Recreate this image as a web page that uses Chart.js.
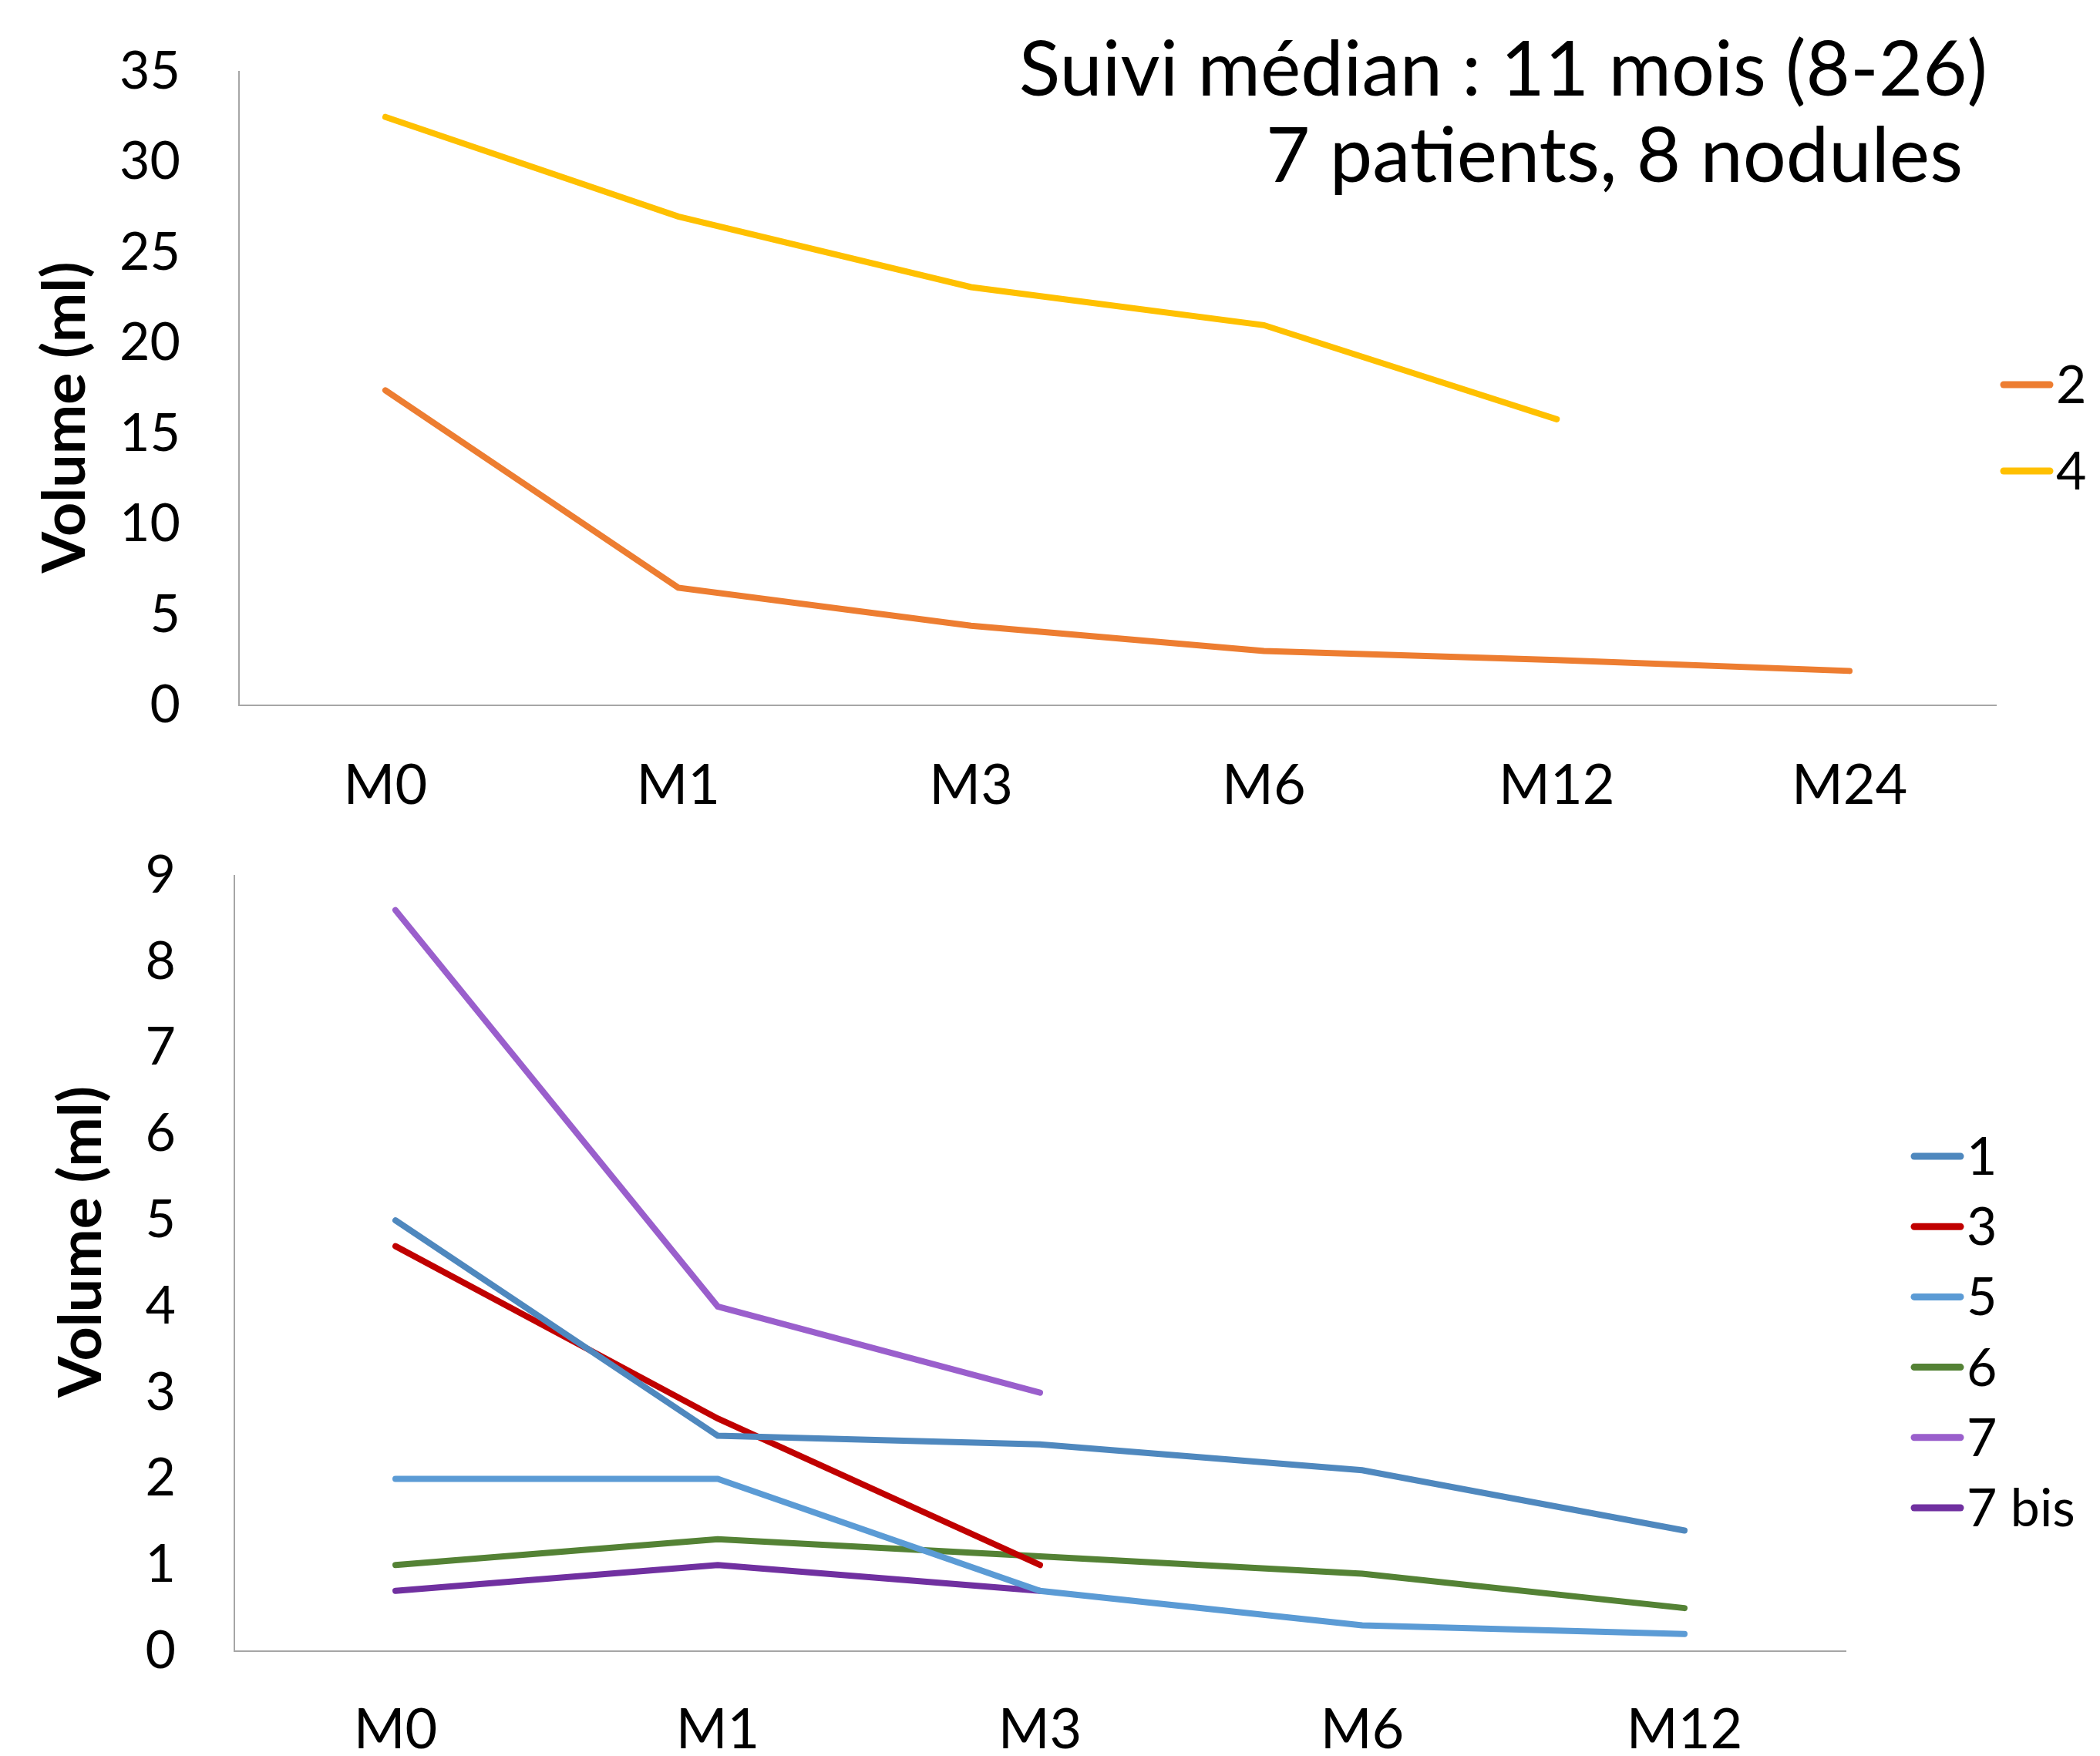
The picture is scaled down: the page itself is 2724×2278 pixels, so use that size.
<!DOCTYPE html>
<html>
<head>
<meta charset="utf-8">
<script src="https://cdn.jsdelivr.net/npm/chart.js@4.4.1/dist/chart.umd.min.js"></script>
<style>
  body { margin: 0; background: #fff; }
  canvas { position: absolute; left: 0; }
</style>
</head>
<body>
<canvas id="topChart" width="2724" height="1080" style="top:0"></canvas>
<canvas id="bottomChart" width="2724" height="1198" style="top:1080px"></canvas>
<script>
// top chart: large nodules
const topMonths = ['M0', 'M1', 'M3', 'M6', 'M12', 'M24'];
const nodule2 = [17.4, 6.5, 4.4, 3.0, 2.5, 1.9];
const nodule4 = [32.5, 27.0, 23.1, 21.0, 15.8, null];

// bottom chart: small nodules
const bottomMonths = ['M0', 'M1', 'M3', 'M6', 'M12'];
const nodule1 = [5.0, 2.5, 2.4, 2.1, 1.4];
const nodule3 = [4.7, 2.7, 1.0, null, null];
const nodule5 = [2.0, 2.0, 0.7, 0.3, 0.2];
const nodule6 = [1.0, 1.3, 1.1, 0.9, 0.5];
const nodule7 = [8.6, 4.0, 3.0, null, null];
const nodule7bis = [0.7, 1.0, 0.7, null, null];

const titleLines = ['Suivi médian : 11 mois (8-26)', '7 patients, 8 nodules'];

const FONT = 'Lato';

// legend drawn as "line + label" like the original spreadsheet chart
const lineLegend = {
  id: 'lineLegend',
  afterDraw(chart, args, opts) {
    const ctx = chart.ctx;
    ctx.save();
    ctx.font = opts.size + 'px ' + FONT;
    ctx.textBaseline = 'middle';
    ctx.fillStyle = '#000';
    ctx.lineCap = 'round';
    ctx.lineWidth = 9;
    chart.data.datasets.forEach((ds, i) => {
      const y = opts.top + i * opts.step;
      ctx.strokeStyle = ds.borderColor;
      ctx.beginPath();
      ctx.moveTo(opts.x + 4, y);
      ctx.lineTo(opts.x + opts.len - 4, y);
      ctx.stroke();
      ctx.fillText(ds.label, opts.x + opts.len + 4, y + 2);
    });
    ctx.restore();
  }
};

const noteTitle = {
  id: 'noteTitle',
  afterDraw(chart, args, opts) {
    if (!opts.lines) return;
    const ctx = chart.ctx;
    ctx.save();
    ctx.font = '99px ' + FONT;
    ctx.fillStyle = '#000';
    ctx.textAlign = 'right';
    ctx.textBaseline = 'alphabetic';
    ctx.fillText(opts.lines[0], 2578, 124);
    ctx.fillText(opts.lines[1], 2546, 236);
    ctx.restore();
  }
};

function series(label, data, color) {
  return {
    label: label,
    data: data,
    borderColor: color,
    backgroundColor: color,
    borderWidth: 8,
    borderCapStyle: 'round',
    pointRadius: 0,
    tension: 0,
    fill: false
  };
}

function makeOptions(cfg) {
  return {
    responsive: false,
    animation: false,
    devicePixelRatio: 1,
    layout: { padding: { top: cfg.padTop, right: cfg.padRight, left: 0, bottom: 0 } },
    plugins: {
      legend: { display: false },
      tooltip: { enabled: false },
      lineLegend: cfg.legend,
      noteTitle: { lines: cfg.title }
    },
    scales: {
      x: {
        offset: true,
        grid: { display: false, drawTicks: false },
        border: { display: true, color: '#A6A6A6', width: 2 },
        ticks: { color: '#000', font: { family: FONT, size: 72 }, padding: cfg.xPad, maxRotation: 0 },
        afterFit: s => { s.height = cfg.xHeight; }
      },
      y: {
        min: 0,
        max: cfg.yMax,
        // invisible tick marks give the gap between labels and axis
        grid: { display: true, drawOnChartArea: false, drawTicks: true, tickLength: 76, color: 'rgba(0,0,0,0)' },
        border: { display: true, color: '#A6A6A6', width: 2 },
        ticks: { stepSize: cfg.step, color: '#000', font: { family: FONT, size: 68 }, padding: 0 },
        title: {
          display: true,
          text: cfg.yTitle,
          color: '#000',
          font: { family: FONT, size: 77, weight: 'bold' },
          padding: { top: cfg.titlePad, bottom: 0 }
        },
        afterFit: s => { s.width = cfg.yWidth; }
      }
    }
  };
}

new Chart(document.getElementById('topChart'), {
  type: 'line',
  data: {
    labels: topMonths,
    datasets: [
      series('2', nodule2, '#ED7D31'),
      series('4', nodule4, '#FFC000')
    ]
  },
  options: makeOptions({
    padTop: 93, padRight: 135, yWidth: 310, xHeight: 165, xPad: 62,
    yMax: 35, step: 5, titlePad: 39, title: titleLines,
    yTitle: 'Volume (ml)    ',
    legend: { x: 2595, len: 68, top: 499, step: 112, size: 68 }
  }),
  plugins: [lineLegend, noteTitle]
});

new Chart(document.getElementById('bottomChart'), {
  type: 'line',
  data: {
    labels: bottomMonths,
    datasets: [
      series('1', nodule1, '#4F88BE'),
      series('3', nodule3, '#C00000'),
      series('5', nodule5, '#5B9BD5'),
      series('6', nodule6, '#548235'),
      series('7', nodule7, '#9A5FCC'),
      series('7 bis', nodule7bis, '#7030A0')
    ]
  },
  options: makeOptions({
    padTop: 56, padRight: 330, yWidth: 304, xHeight: 136, xPad: 60,
    yMax: 9, step: 1, titlePad: 60, title: null,
    yTitle: '   Volume (ml)',
    legend: { x: 2479, len: 68, top: 420, step: 91.2, size: 68 }
  }),
  plugins: [lineLegend, noteTitle]
});
</script>
</body>
</html>
